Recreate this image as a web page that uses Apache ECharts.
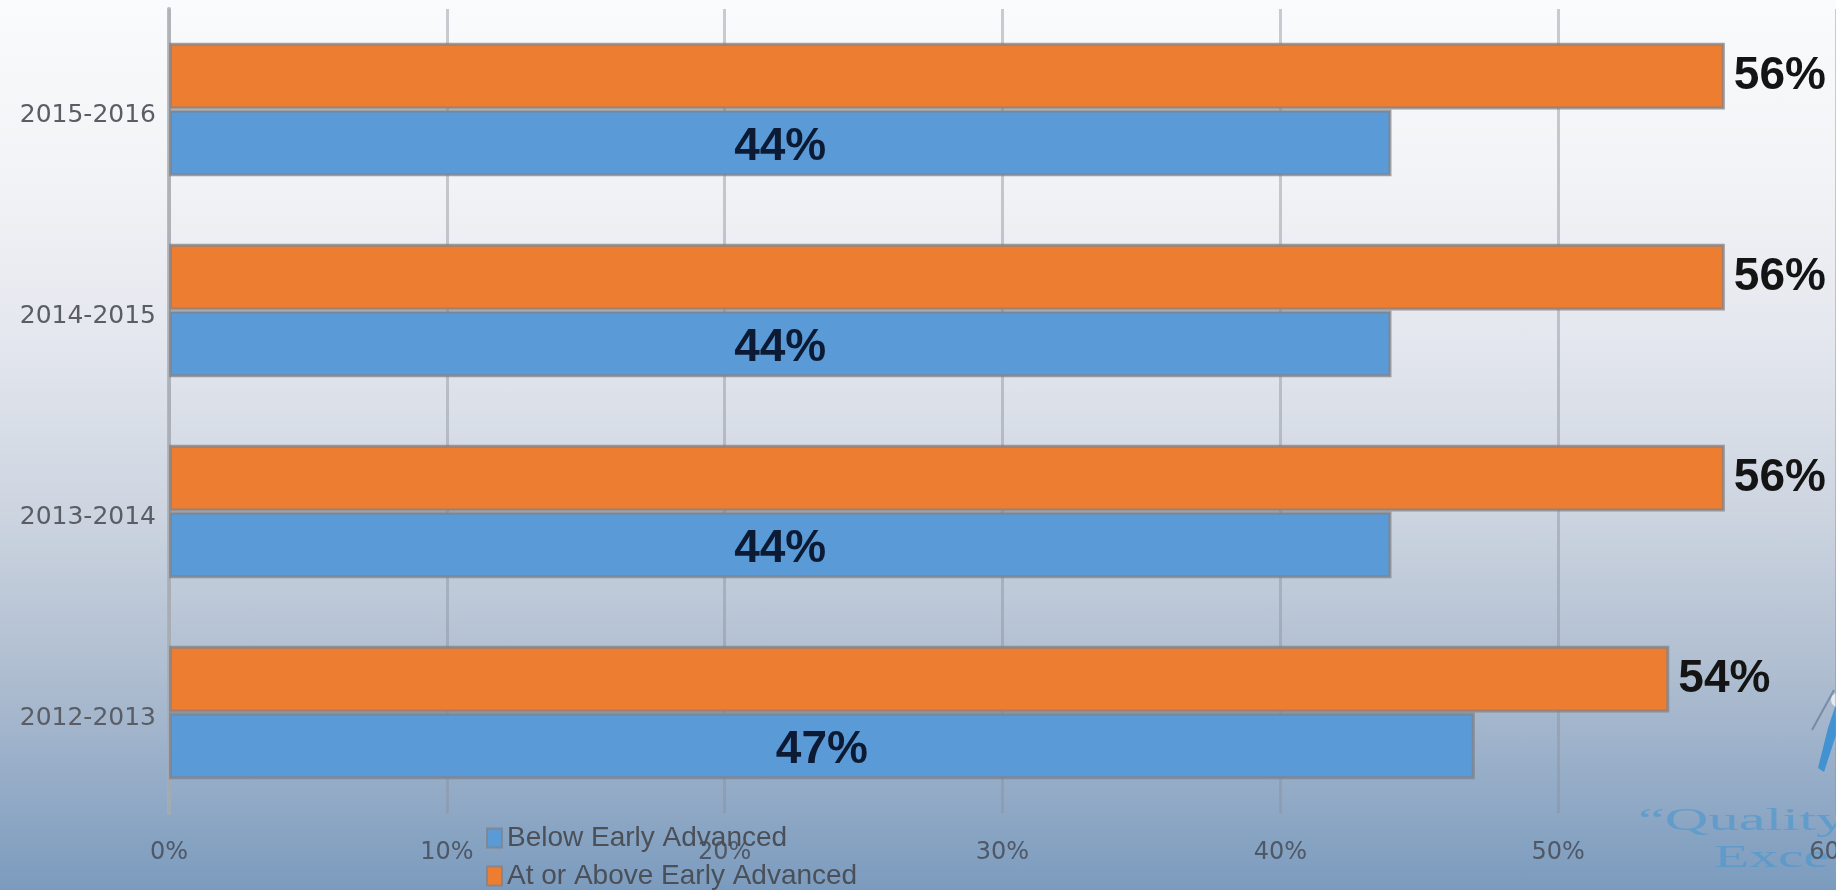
<!DOCTYPE html>
<html>
<head>
<meta charset="utf-8">
<script src="https://cdn.jsdelivr.net/npm/echarts@6/dist/echarts.min.js"></script>
<style>
html,body{margin:0;padding:0;}
#chart{width:1836px;height:890px;background:linear-gradient(to bottom,#fafbfc 0%,#f2f3f6 20%,#e4e7ee 38%,#ccd4e0 58%,#aebdd0 76%,#7b9bbe 100%);}
</style>
</head>
<body>
<div id="chart"></div>
<script>
var categories = ['2012-2013', '2013-2014', '2014-2015', '2015-2016'];
var belowEarlyAdvanced = [47, 44, 44, 44];
var atOrAboveEarlyAdvanced = [54, 56, 56, 56];
var seriesNames = ['Below Early Advanced', 'At or Above Early Advanced'];
var xTicks = { min: 0, max: 60, interval: 10 };

var legendText = { fontFamily: 'Liberation Sans', fontSize: 28, color: '#4a4f58', padding: [0, 0, 0, 0] };
var chart = echarts.init(document.getElementById('chart'));
var option = {
  backgroundColor: 'transparent',
  animation: false,
  grid: { left: 169, right: 0, top: 9, bottom: 77, containLabel: false, outerBoundsMode: 'none' },
  legend: [
    { left: 481, top: 819, itemWidth: 15, itemHeight: 19, itemGap: 4, icon: 'rect', data: [seriesNames[0]], textStyle: legendText },
    { left: 481, top: 857, itemWidth: 15, itemHeight: 19, itemGap: 4, icon: 'rect', data: [seriesNames[1]], textStyle: legendText }
  ],
  xAxis: {
    type: 'value',
    min: xTicks.min, max: xTicks.max, interval: xTicks.interval,
    axisLine: { show: false },
    axisTick: { show: false },
    axisLabel: { formatter: '{value}%', fontFamily: 'DejaVu Sans', fontSize: 24, color: '#4f5866', margin: 28 },
    splitLine: { show: true, lineStyle: { color: 'rgba(140,145,155,0.45)', width: 3 } }
  },
  yAxis: {
    type: 'category',
    data: categories,
    axisLine: { show: true, lineStyle: { color: 'rgba(170,172,178,0.8)', width: 4 } },
    axisTick: { show: false },
    axisLabel: {
      margin: 13,
      formatter: function (v) { return '{a|' + v + '}'; },
      rich: { a: { fontFamily: 'DejaVu Sans', fontSize: 25, color: '#5a5d64', padding: [12, 0, 0, 0] } }
    }
  },
  series: [
    {
      name: seriesNames[1],
      type: 'bar',
      data: atOrAboveEarlyAdvanced,
      barGap: '0%',
      barCategoryGap: '33.5%',
      itemStyle: { color: '#ed7d31', borderColor: 'rgba(130,130,135,0.75)', borderWidth: 3 },
      label: {
        show: true, position: 'right', distance: 9,
        formatter: '{c}%',
        fontFamily: 'Liberation Sans', fontWeight: 'bold', fontSize: 46, color: '#141414'
      }
    },
    {
      name: seriesNames[0],
      type: 'bar',
      data: belowEarlyAdvanced,
      barGap: '0%',
      barCategoryGap: '33.5%',
      itemStyle: { color: '#5a9ad6', borderColor: 'rgba(130,130,135,0.75)', borderWidth: 3 },
      label: {
        show: true, position: 'inside', offset: [0, 4],
        formatter: '{c}%',
        fontFamily: 'Liberation Sans', fontWeight: 'bold', fontSize: 46, color: '#0c1a33'
      }
    }
  ],
  graphic: [
    { type: 'text', x: 1638, y: 806, scaleX: 1.95, silent: true,
      style: { text: '\u201CQuality', font: '31px "Liberation Serif"', fill: 'rgba(80,152,205,0.7)', verticalAlign: 'top' } },
    { type: 'text', x: 1714, y: 843, scaleX: 1.8, silent: true,
      style: { text: 'Exce', font: '32px "Liberation Serif"', fill: 'rgba(80,152,205,0.7)', verticalAlign: 'top' } },
    { type: 'line', silent: true, shape: { x1: 1834, y1: 690, x2: 1812, y2: 730 },
      style: { stroke: 'rgba(90,110,140,0.6)', lineWidth: 2 } },
    { type: 'polygon', silent: true, shape: { points: [[1836, 704], [1836, 735], [1824, 772], [1818, 768], [1828, 728]] },
      style: { fill: 'rgba(50,140,210,0.85)' } },
    { type: 'circle', silent: true, shape: { cx: 1838, cy: 700, r: 7 },
      style: { fill: 'rgba(235,240,245,0.9)' } }
  ]
};
chart.setOption(option);
</script>
</body>
</html>
